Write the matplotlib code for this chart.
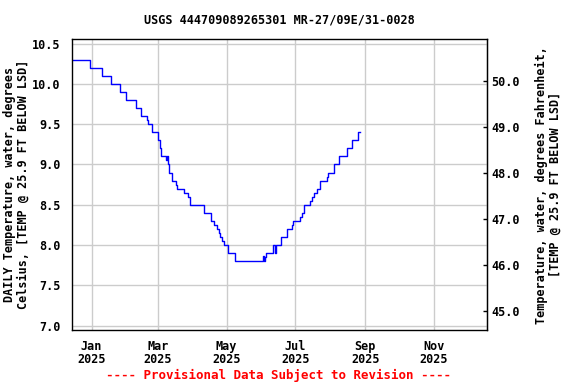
import matplotlib
matplotlib.use("Agg")
import matplotlib.pyplot as plt
import numpy as np
from datetime import datetime

# step breakpoints (date the value changes, deg C)
change_dates = [
    "2024-12-14", "2024-12-31", "2025-01-10", "2025-01-18", "2025-01-26",
    "2025-02-01", "2025-02-09", "2025-02-14", "2025-02-19", "2025-02-20",
    "2025-02-24", "2025-03-01", "2025-03-03", "2025-03-04", "2025-03-08",
    "2025-03-09", "2025-03-10", "2025-03-11", "2025-03-13", "2025-03-17",
    "2025-03-18", "2025-03-24", "2025-03-28", "2025-03-29", "2025-04-11",
    "2025-04-17", "2025-04-20", "2025-04-22", "2025-04-24", "2025-04-25",
    "2025-04-27", "2025-04-29", "2025-05-02", "2025-05-08", "2025-06-02",
    "2025-06-03", "2025-06-04", "2025-06-05", "2025-06-11", "2025-06-13",
    "2025-06-14", "2025-06-18", "2025-06-24", "2025-06-28", "2025-06-29",
    "2025-07-05", "2025-07-07", "2025-07-09", "2025-07-14", "2025-07-16",
    "2025-07-18", "2025-07-20", "2025-07-23", "2025-07-29", "2025-07-30",
    "2025-08-04", "2025-08-09", "2025-08-16", "2025-08-20", "2025-08-26",
    "2025-08-27",
]
temp_c = [
    10.3, 10.2, 10.1, 10.0, 9.9,
    9.8, 9.7, 9.6, 9.55, 9.5,
    9.4, 9.3, 9.2, 9.1, 9.05,
    9.1, 9.0, 8.9, 8.8, 8.75,
    8.7, 8.65, 8.6, 8.5, 8.4,
    8.3, 8.25, 8.2, 8.15, 8.1,
    8.05, 8.0, 7.9, 7.8, 7.87,
    7.8, 7.85, 7.9, 8.0, 7.9,
    8.0, 8.1, 8.2, 8.25, 8.3,
    8.35, 8.4, 8.5, 8.55, 8.6,
    8.65, 8.7, 8.8, 8.85, 8.9,
    9.0, 9.1, 9.2, 9.3, 9.4,
    9.4,
]

left_ticks = [7.0, 7.5, 8.0, 8.5, 9.0, 9.5, 10.0, 10.5]
right_ticks = [45.0, 46.0, 47.0, 48.0, 49.0, 50.0]
month_ticks = ["2025-01-01", "2025-03-01", "2025-05-01", "2025-07-01",
               "2025-09-01", "2025-11-01"]

dates = [datetime.strptime(d, "%Y-%m-%d") for d in change_dates]
mticks = [datetime.strptime(d, "%Y-%m-%d") for d in month_ticks]

font = "DejaVu Sans Mono"
fs = 8.5

# right scale as drawn by the source graph (not an exact C->F conversion)
fa, fb = 1.75, 32.44

fig = plt.figure(figsize=(5.76, 3.84), dpi=100)
fig.patch.set_facecolor("white")
ax = fig.add_axes([0.1245, 0.1406, 0.7205, 0.7572])

ax.plot(dates, temp_c, color="#0000ff", linewidth=1, drawstyle="steps-post")

ax.set_xlim(datetime(2024, 12, 14, 8), datetime(2025, 12, 18))
ax.set_ylim(6.947, 10.553)
ax.set_yticks(left_ticks)
ax.set_yticklabels(["%.1f" % v for v in left_ticks], fontfamily=font,
                   fontweight="bold", fontsize=fs)
ax.set_xticks(mticks)
ax.set_xticklabels([d.strftime("%b") + "\n2025" for d in mticks],
                   fontfamily=font, fontweight="bold", fontsize=fs,
                   linespacing=1.05)
ax.grid(True, color="#cccccc", linewidth=1)
ax.set_axisbelow(True)
ax.tick_params(axis="y", length=0, pad=8)
ax.tick_params(axis="x", length=0, pad=7)
for s in ax.spines.values():
    s.set_linewidth(1)

sec = ax.secondary_yaxis("right", functions=(lambda c: c * fa + fb,
                                              lambda f: (f - fb) / fa))
sec.set_yticks(right_ticks)
sec.set_yticklabels(["%.1f" % v for v in right_ticks], fontfamily=font,
                    fontweight="bold", fontsize=fs)
sec.tick_params(length=3, width=1, pad=3, direction="in")

ax.set_ylabel("DAILY Temperature, water, degrees\nCelsius, [TEMP @ 25.9 FT BELOW LSD]",
              fontfamily=font, fontweight="bold", fontsize=fs,
              linespacing=1.1)
ax.yaxis.set_label_coords(-0.101, 0.5)
sec.set_ylabel("Temperature, water, degrees Fahrenheit,\n[TEMP @ 25.9 FT BELOW LSD]",
               fontfamily=font, fontweight="bold", fontsize=fs, labelpad=11,
               linespacing=1.1)

ax.set_title("USGS 444709089265301 MR-27/09E/31-0028", fontfamily=font,
             fontweight="bold", fontsize=fs, pad=11)
fig.text(0.484, 0.012, "---- Provisional Data Subject to Revision ----",
         color="red", ha="center", fontfamily=font, fontweight="bold",
         fontsize=fs + 0.5)

plt.savefig("out.png", dpi=100)
